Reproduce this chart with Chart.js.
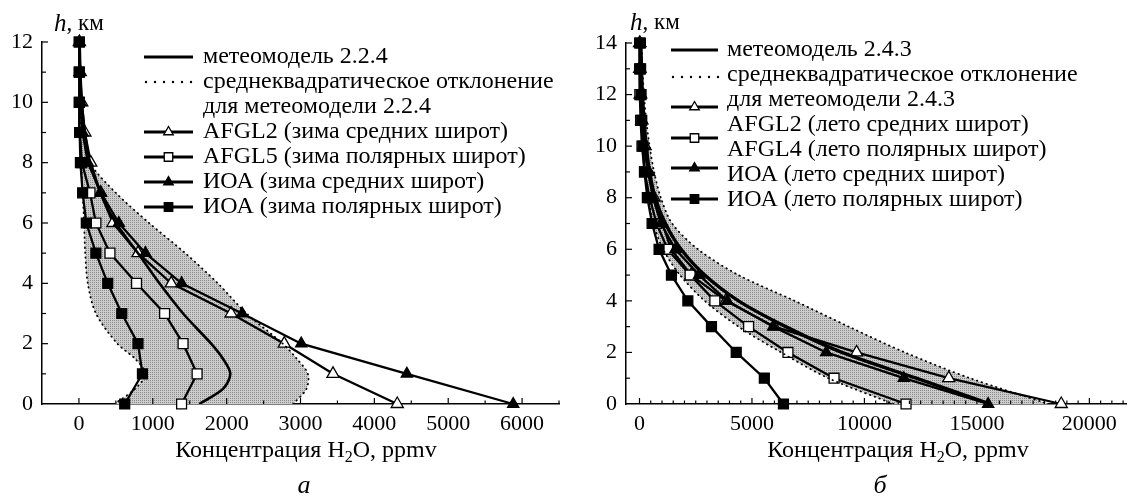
<!DOCTYPE html>
<html lang="ru">
<head>
<meta charset="utf-8">
<script src="https://cdn.jsdelivr.net/npm/chart.js@4.4.1/dist/chart.umd.min.js"></script>
<style>
  html, body { margin: 0; padding: 0; background: #fff; }
  #wrap { position: relative; width: 1135px; height: 500px; }
  .box { position: absolute; top: 0; height: 500px; }
  #boxA { left: 0; width: 568px; }
  #boxB { left: 568px; width: 567px; }
</style>
</head>
<body>
<div id="wrap">
  <div class="box" id="boxA"><canvas id="chartA"></canvas></div>
  <div class="box" id="boxB"><canvas id="chartB"></canvas></div>
</div>
<script>
// ---- panel "а": winter profiles, h in km, H2O in ppmv ----
const hA = [0, 1, 2, 3, 4, 5, 6, 7, 8, 9, 10, 11, 12];
const hFineA = [0, 0.5, 1, 1.5, 2, 3, 4, 5, 6, 7, 8, 9, 10, 11, 12];
const meteoA = [1630, 1950, 2050, 1950, 1790, 1410, 1090, 800, 500, 290, 150, 80, 40, 20, 10];
const sdUpA = [2900, 3080, 3100, 2950, 2760, 2270, 1880, 1440, 950, 500, 150, 60, 25, 12, 6];
const sdLoA = [480, 760, 900, 760, 520, 230, 120, 85, 70, 50, 30, 20, 10, 5, 3];
const afglMidA = [4310, 3440, 2780, 2060, 1250, 800, 460, 290, 160, 80, 38, 17, 7];
const afglPolA = [1390, 1600, 1410, 1160, 780, 420, 230, 150, 40, 12, 6, 5, 5];
const ioaMidA = [5880, 4440, 3010, 2210, 1390, 900, 540, 300, 120, 50, 20, 10, 5];
const ioaPolA = [620, 860, 800, 580, 390, 230, 100, 50, 20, 10, 5, 5, 5];
const xTicksA = [0, 1000, 2000, 3000, 4000, 5000, 6000];
const yTicksA = [0, 2, 4, 6, 8, 10, 12];
const legendA = [
  'метеомодель 2.2.4',
  'среднеквадратическое отклонение',
  'для метеомодели 2.2.4',
  'AFGL2 (зима средних широт)',
  'AFGL5 (зима полярных широт)',
  'ИОА (зима средних широт)',
  'ИОА (зима полярных широт)'
];

// ---- panel "б": summer profiles ----
const hB = [0, 1, 2, 3, 4, 5, 6, 7, 8, 9, 10, 11, 12, 13, 14];
const meteoB = [15600, 12300, 9000, 6500, 4400, 2900, 1850, 1150, 700, 450, 300, 200, 130, 90, 60];
const sdUpB = [18200, 14700, 11800, 9300, 6900, 4400, 2600, 1450, 950, 650, 450, 300, 200, 130, 90];
const sdLoB = [11300, 8400, 6300, 4400, 2900, 1800, 1050, 620, 400, 250, 150, 100, 60, 40, 30];
const afglMidB = [18750, 13750, 9650, 6000, 3840, 2300, 1400, 1020, 650, 410, 250, 100, 30, 8, 5];
const afglPolB = [11850, 8650, 6600, 4850, 3350, 2250, 1250, 760, 450, 230, 110, 50, 15, 5, 5];
const ioaMidB = [15500, 11750, 8300, 5950, 3900, 2650, 1600, 950, 600, 380, 180, 110, 70, 40, 30];
const ioaPolB = [6400, 5550, 4300, 3200, 2150, 1420, 870, 560, 350, 220, 150, 100, 70, 50, 40];
const xTicksB = [0, 5000, 10000, 15000, 20000];
const yTicksB = [0, 2, 4, 6, 8, 10, 12, 14];
const legendB = [
  'метеомодель 2.4.3',
  'среднеквадратическое отклонение',
  'для метеомодели 2.4.3',
  'AFGL2 (лето средних широт)',
  'AFGL4 (лето полярных широт)',
  'ИОА (лето средних широт)',
  'ИОА (лето полярных широт)'
];

const xTitle = ['Концентрация H', '2', 'O, ppmv'];
const SERIF = "'Liberation Serif', 'DejaVu Serif', serif";

function pts(xs, hs) {
  return xs.map((v, i) => ({ x: v, y: hs[i] }));
}

// gray crosshatched band between the dotted curves
function bandPattern(ctx) {
  const c = document.createElement('canvas');
  c.width = 2; c.height = 2;
  const g = c.getContext('2d');
  g.fillStyle = '#cdcdcd';
  g.fillRect(0, 0, 2, 2);
  g.fillStyle = '#8a8a8a';
  g.fillRect(0, 0, 1, 1);
  return ctx.createPattern(c, 'repeat');
}

function drawMarker(ctx, kind, x, y, r) {
  ctx.beginPath();
  if (kind.startsWith('tri')) {
    ctx.moveTo(x, y - r);
    ctx.lineTo(x + r * 0.866, y + r * 0.5);
    ctx.lineTo(x - r * 0.866, y + r * 0.5);
    ctx.closePath();
  } else {
    const s = r * Math.SQRT1_2;
    ctx.rect(x - s, y - s, 2 * s, 2 * s);
  }
  ctx.fillStyle = kind.endsWith('Open') ? '#fff' : '#000';
  ctx.fill();
  ctx.lineWidth = 1.3;
  ctx.strokeStyle = '#000';
  ctx.stroke();
}

// inward ticks, axis captions and the hand-laid legend
const decor = {
  id: 'decor',
  afterDraw(chart, args, o) {
    const ctx = chart.ctx;
    const xs = chart.scales.x, ys = chart.scales.y;
    const a = chart.chartArea;
    ctx.save();
    ctx.strokeStyle = '#000';
    ctx.lineWidth = 1.2;
    for (let v = 0; v <= xs.max; v += o.xMinor) {
      const px = xs.getPixelForValue(v);
      const len = v % o.xMajor === 0 ? 6 : 3.5;
      ctx.beginPath(); ctx.moveTo(px, a.bottom); ctx.lineTo(px, a.bottom - len); ctx.stroke();
    }
    for (let v = 1; v <= ys.max; v += 1) {
      const py = ys.getPixelForValue(v);
      const len = v % 2 === 0 ? 6 : 4;
      ctx.beginPath(); ctx.moveTo(a.left, py); ctx.lineTo(a.left + len, py); ctx.stroke();
    }

    ctx.fillStyle = '#000';
    ctx.textBaseline = 'middle';
    ctx.textAlign = 'left';

    // "h, км"
    ctx.font = 'italic 25px ' + SERIF;
    ctx.fillText('h', o.hLabel[0], o.hLabel[1]);
    const hw = ctx.measureText('h').width;
    ctx.font = '23px ' + SERIF;
    ctx.fillText(', км', o.hLabel[0] + hw, o.hLabel[1]);

    // x title with subscript
    ctx.font = '24px ' + SERIF;
    const w1 = ctx.measureText(xTitle[0]).width;
    const w3 = ctx.measureText(xTitle[2]).width;
    ctx.font = '16px ' + SERIF;
    const w2 = ctx.measureText(xTitle[1]).width;
    let tx = o.xTitle[0] - (w1 + w2 + w3) / 2;
    const ty = o.xTitle[1];
    ctx.font = '24px ' + SERIF;
    ctx.fillText(xTitle[0], tx, ty);
    tx += w1;
    ctx.font = '16px ' + SERIF;
    ctx.fillText(xTitle[1], tx, ty + 7);
    tx += w2;
    ctx.font = '24px ' + SERIF;
    ctx.fillText(xTitle[2], tx, ty);

    // panel letter
    ctx.font = 'italic 26px ' + SERIF;
    ctx.textAlign = 'center';
    ctx.fillText(o.letter, o.letterPos[0], o.letterPos[1]);

    // legend
    const L = o.legend;
    ctx.textAlign = 'left';
    ctx.font = '24px ' + SERIF;
    L.texts.forEach((t, i) => ctx.fillText(t, L.textX, L.textY0 + i * L.step));
    const xm = (L.x1 + L.x2) / 2;
    L.symbols.forEach((s, i) => {
      const y = L.symY[i];
      ctx.strokeStyle = '#000';
      if (s === 'dots') {
        ctx.fillStyle = '#000';
        for (let x = L.x1 + 2; x <= L.x2; x += 9) {
          ctx.beginPath(); ctx.arc(x, y, 1.2, 0, Math.PI * 2); ctx.fill();
        }
        return;
      }
      ctx.lineWidth = s === 'solid' ? 3.2 : 2.8;
      ctx.beginPath(); ctx.moveTo(L.x1, y); ctx.lineTo(L.x2, y); ctx.stroke();
      if (s !== 'solid') drawMarker(ctx, s, xm, y, s.startsWith('tri') ? 5.5 : 6);
    });
    ctx.restore();
  }
};

function lineSet(xs, hs, style, r) {
  const open = style.endsWith('Open');
  return {
    data: pts(xs, hs),
    borderColor: '#000',
    borderWidth: 2.3,
    pointStyle: style.startsWith('tri') ? 'triangle' : 'rect',
    pointRadius: r,
    pointBackgroundColor: open ? '#fff' : '#000',
    pointBorderColor: '#000',
    pointBorderWidth: 1.3,
    fill: false,
    tension: 0,
    clip: false
  };
}

function makeChart(id, c) {
  const ctx = document.getElementById(id).getContext('2d');
  const dotted = {
    borderColor: '#000', borderWidth: 1.8, borderDash: [0.5, 4.5], borderCapStyle: 'round',
    pointRadius: 0, tension: 0.3
  };
  return new Chart(ctx, {
    type: 'line',
    data: {
      datasets: [
        Object.assign({ data: pts(c.sdUp, c.hFine), fill: '+1', backgroundColor: bandPattern(ctx) }, dotted),
        Object.assign({ data: pts(c.sdLo, c.hFine), fill: false }, dotted),
        lineSet(c.ioaPol, c.h, 'rect', 7),
        lineSet(c.ioaMid, c.h, 'tri', 6.5),
        { data: pts(c.meteo, c.hFine), borderColor: '#000', borderWidth: c.meteoWidth, pointRadius: 0, tension: 0.3, fill: false },
        lineSet(c.afglPol, c.h, 'rectOpen', 7),
        lineSet(c.afglMid, c.h, 'triOpen', 7)
      ]
    },
    options: {
      indexAxis: 'y',
      animation: false,
      responsive: true,
      maintainAspectRatio: false,
      layout: { padding: { top: c.padTop, right: c.padRight, bottom: 0, left: 0 } },
      plugins: {
        legend: { display: false },
        tooltip: { enabled: false },
        filler: { drawTime: 'beforeDatasetsDraw' },
        decor: c.decor
      },
      scales: {
        x: {
          type: 'linear', position: 'bottom', min: c.xMin, max: c.xMax,
          afterBuildTicks: s => { s.ticks = c.xTicks.map(v => ({ value: v })); },
          afterFit: s => { s.height = 96; },
          grid: { display: false, drawTicks: false },
          border: { color: '#000', width: 1.5 },
          ticks: { color: '#000', font: { family: SERIF, size: 22 }, padding: 7, maxRotation: 0, autoSkip: false, callback: v => String(v) }
        },
        y: {
          type: 'linear', min: 0, max: c.yMax,
          afterBuildTicks: s => { s.ticks = c.yTicks.map(v => ({ value: v })); },
          afterFit: s => { s.width = c.yWidth; },
          grid: { display: false, drawTicks: false },
          border: { color: '#000', width: 1.5 },
          ticks: { color: '#000', font: { family: SERIF, size: 22 }, padding: c.yPad, autoSkip: false, callback: v => String(v) }
        }
      }
    },
    plugins: [decor]
  });
}

makeChart('chartA', {
  h: hA, hFine: hFineA,
  meteo: meteoA, sdUp: sdUpA, sdLo: sdLoA,
  afglMid: afglMidA, afglPol: afglPolA, ioaMid: ioaMidA, ioaPol: ioaPolA,
  xMin: -500, xMax: 6500, xTicks: xTicksA, yMax: 12, yTicks: yTicksA,
  yWidth: 42, yPad: 9, padTop: 42, padRight: 9, meteoWidth: 2.6,
  decor: {
    xMinor: 500, xMajor: 1000,
    hLabel: [54, 24], xTitle: [306, 451], letter: 'а', letterPos: [304, 486],
    legend: {
      texts: legendA, textX: 203, textY0: 57, step: 25,
      x1: 144, x2: 193,
      symbols: ['solid', 'dots', 'triOpen', 'rectOpen', 'tri', 'rect'],
      symY: [57, 82, 132, 157, 182, 207]
    }
  }
});

makeChart('chartB', {
  h: hB, hFine: hB,
  meteo: meteoB, sdUp: sdUpB, sdLo: sdLoB,
  afglMid: afglMidB, afglPol: afglPolB, ioaMid: ioaMidB, ioaPol: ioaPolB,
  xMin: -600, xMax: 21660, xTicks: xTicksB, yMax: 14, yTicks: yTicksB,
  yWidth: 58, yPad: 9, padTop: 43, padRight: 0, meteoWidth: 3.4,
  decor: {
    xMinor: 500, xMajor: 5000,
    hLabel: [62, 23], xTitle: [330, 451], letter: 'б', letterPos: [312, 486],
    legend: {
      texts: legendB, textX: 159, textY0: 50, step: 25,
      x1: 103, x2: 150,
      symbols: ['solid', 'dots', 'triOpen', 'rectOpen', 'tri', 'rect'],
      symY: [50, 77, 107, 138, 168, 199]
    }
  }
});
</script>
</body>
</html>
